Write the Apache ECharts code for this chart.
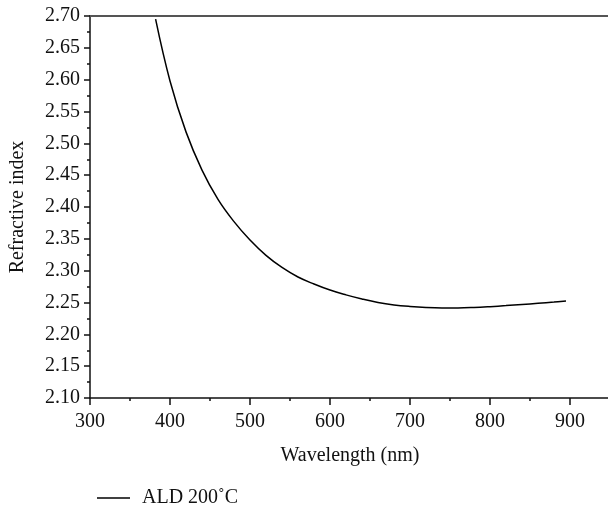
<!DOCTYPE html>
<html>
<head>
<meta charset="utf-8">
<script src="https://cdn.jsdelivr.net/npm/echarts@6/dist/echarts.min.js"></script>
<style>
  html, body { margin: 0; padding: 0; background: #fff; }
  #chart { width: 608px; height: 507px; }
</style>
</head>
<body>
<div id="chart"></div>
<script>
// values
const wavelength = [382, 400, 420, 440, 460, 480, 500, 520, 540, 560, 580, 600, 620, 640, 660, 680, 700, 720, 740, 760, 780, 800, 820, 840, 860, 880, 895]
const refractive = [2.695, 2.598, 2.518, 2.458, 2.412, 2.377, 2.348, 2.324, 2.305, 2.290, 2.279, 2.2695, 2.262, 2.2555, 2.250, 2.2462, 2.2438, 2.2422, 2.2415, 2.2415, 2.2422, 2.2435, 2.2451, 2.2469, 2.2488, 2.2508, 2.2525]
const seriesName = 'ALD 200˚C'

const font = 'Liberation Serif'
const chart = echarts.init(document.getElementById('chart'))

chart.setOption({
  backgroundColor: '#fff',
  animation: false,
  textStyle: { fontFamily: font },
  grid: {
    left: 90,
    top: 16,
    width: 520,
    height: 382,
    outerBoundsMode: 'none'
  },
  legend: {
    left: 92,
    top: 483,
    icon: 'rect',
    itemWidth: 33,
    itemHeight: 1.5,
    itemGap: 10,
    textStyle: { fontFamily: font, fontSize: 20, color: '#111', padding: [0, 0, 0, 7] },
    data: [seriesName]
  },
  xAxis: [
    {
      type: 'value',
      min: 300,
      max: 950,
      interval: 100,
      name: 'Wavelength (nm)',
      nameLocation: 'middle',
      nameGap: 48,
      nameTextStyle: { fontFamily: font, fontSize: 20, color: '#111' },
      splitLine: { show: false },
      axisLine: { lineStyle: { color: '#111', width: 1.5 } },
      axisTick: { length: 7, lineStyle: { color: '#111', width: 1.5 } },
      minorTick: { show: true, splitNumber: 2, length: 3, lineStyle: { color: '#111', width: 1.5 } },
      axisLabel: {
        margin: 14,
        fontSize: 20,
        color: '#111',
        formatter(v) {
          return v > 900 ? '' : v
        }
      }
    },
    {
      type: 'value',
      position: 'top',
      min: 300,
      max: 950,
      axisLine: { lineStyle: { color: '#555', width: 2 } },
      axisTick: { show: false },
      axisLabel: { show: false },
      splitLine: { show: false }
    }
  ],
  yAxis: {
    type: 'value',
    min: 2.1,
    max: 2.7,
    interval: 0.05,
    name: 'Refractive index',
    nameLocation: 'middle',
    nameGap: 62,
    nameTextStyle: { fontFamily: font, fontSize: 20, color: '#111' },
    splitLine: { show: false },
    axisLine: { show: true, lineStyle: { color: '#111', width: 1.5 } },
    axisTick: { show: true, length: 6, lineStyle: { color: '#111', width: 1.5 } },
    minorTick: { show: true, splitNumber: 2, length: 3, lineStyle: { color: '#111', width: 1.5 } },
    axisLabel: {
      margin: 10,
      fontSize: 20,
      color: '#111',
      formatter(v) {
        return v.toFixed(2)
      }
    }
  },
  series: [
    {
      name: seriesName,
      type: 'line',
      smooth: 0.4,
      showSymbol: false,
      symbol: 'none',
      lineStyle: { color: '#000', width: 1.5 },
      itemStyle: { color: '#000' },
      data: wavelength.map((w, i) => [w, refractive[i]])
    }
  ]
})
</script>
</body>
</html>
